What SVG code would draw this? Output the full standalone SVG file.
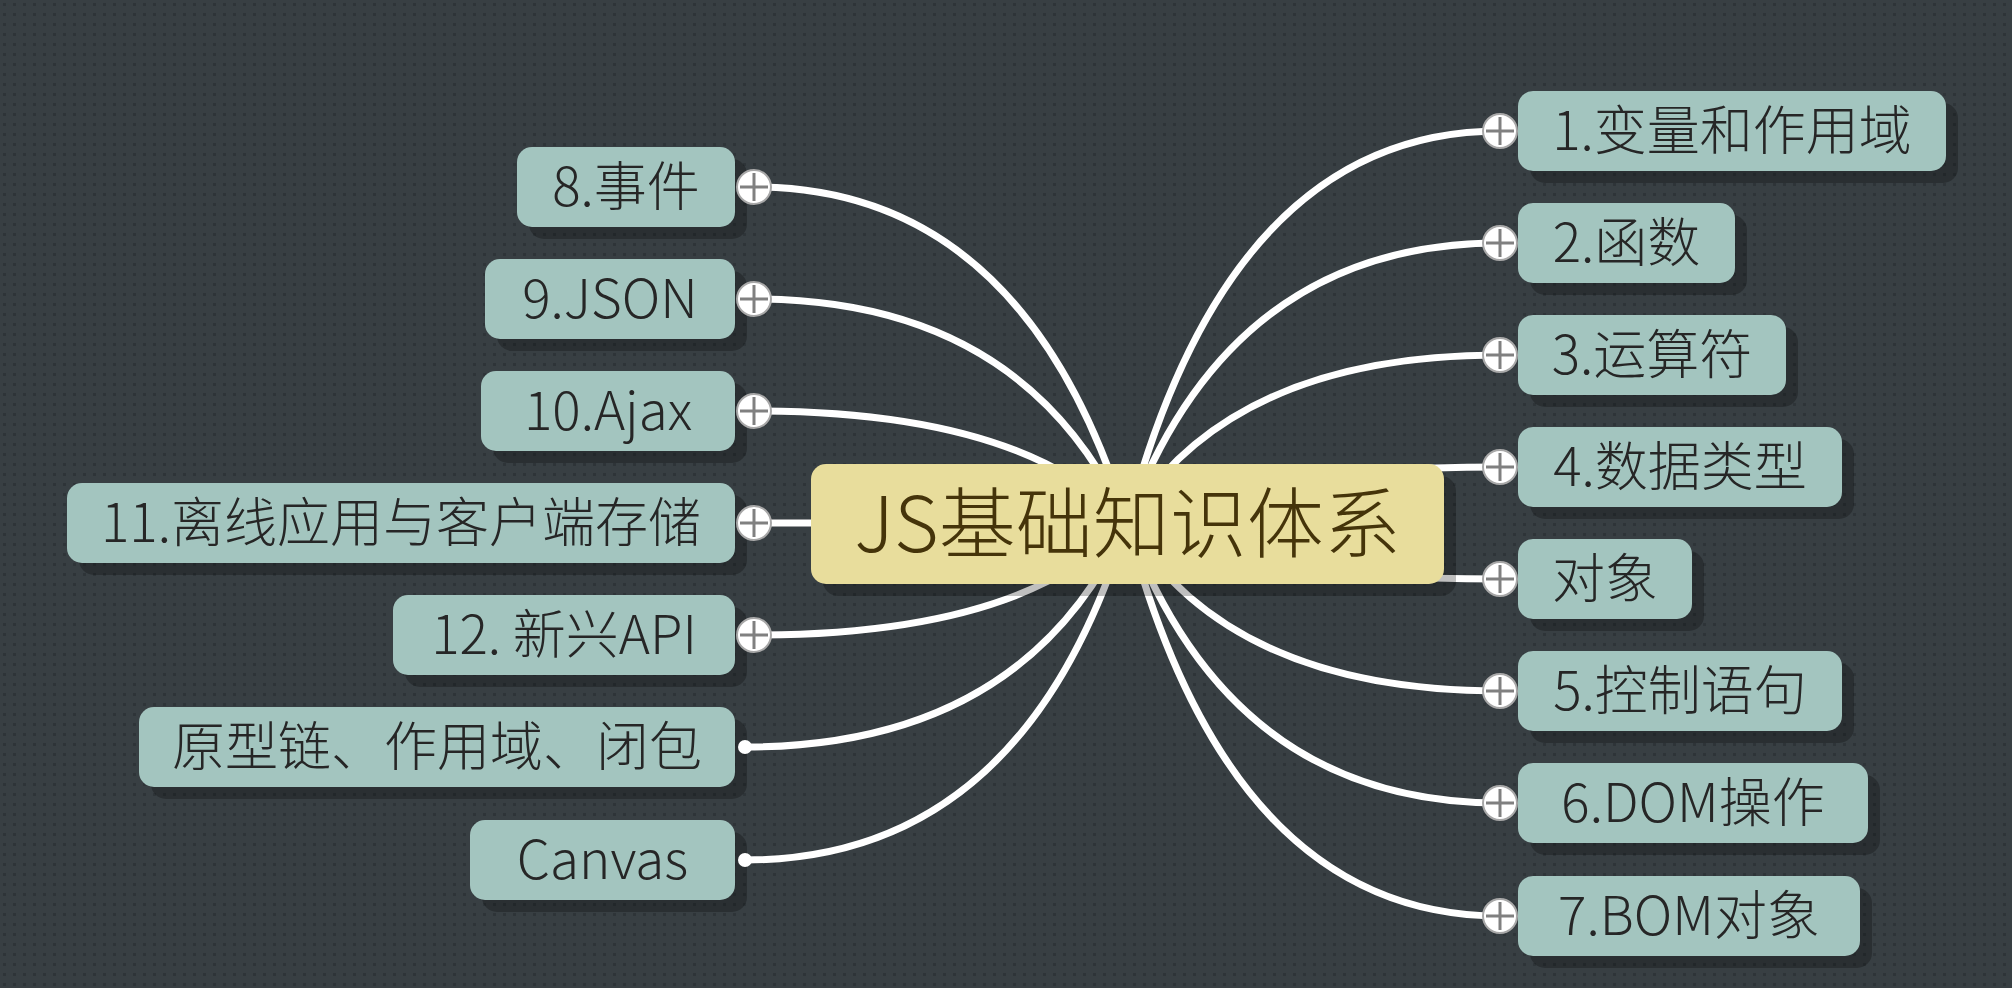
<svg xmlns="http://www.w3.org/2000/svg" width="2012" height="988" viewBox="0 0 2012 988">
<defs>
<pattern id="dots" width="10" height="10" patternUnits="userSpaceOnUse">
<rect width="10" height="10" fill="#383f43"/>
<rect x="3" y="3" width="3" height="3" fill="#2e3438"/>
</pattern>
</defs>
<style>
.conn{fill:none;stroke:#ffffff;stroke-width:7;stroke-linecap:round}
.sh{fill:#000000;fill-opacity:0.25}
.box{fill:#a3c5bf}
.cbox{fill:#e8dd9c}
.t{font-family:"Noto Sans CJK SC","Noto Sans",sans-serif;font-size:53px;font-weight:300;fill:#262626;text-anchor:middle}
.ct{font-family:"Noto Sans CJK SC","Noto Sans",sans-serif;font-size:77px;font-weight:300;fill:#45340a;text-anchor:middle}
.pc{fill:#ffffff;stroke:#a8a8a8;stroke-width:2}
.pl{stroke:#808080;stroke-width:3}
.dot{fill:#ffffff}
</style>
<rect width="2012" height="988" fill="url(#dots)"/>
<g id="connectors">
<path class="conn" d="M1127,523 Q1230,131 1500,131"/>
<path class="conn" d="M1127,523 Q1230,243 1500,243"/>
<path class="conn" d="M1127,523 Q1230,355 1500,355"/>
<path class="conn" d="M1127,523 Q1230,467 1500,467"/>
<path class="conn" d="M1127,523 Q1230,579 1500,579"/>
<path class="conn" d="M1127,523 Q1230,691 1500,691"/>
<path class="conn" d="M1127,523 Q1230,803 1500,803"/>
<path class="conn" d="M1127,523 Q1230,916 1500,916"/>
<path class="conn" d="M1127,523 Q1024,187 754,187"/>
<path class="conn" d="M1127,523 Q1024,299 754,299"/>
<path class="conn" d="M1127,523 Q1024,411 754,411"/>
<path class="conn" d="M1127,523 L754,523"/>
<path class="conn" d="M1127,523 Q1024,635 754,635"/>
<path class="conn" d="M1127,523 Q1024,747 745,747"/>
<path class="conn" d="M1127,523 Q1024,860 745,860"/>
</g>
<g id="node-center">
<rect class="sh" x="823" y="476" width="633" height="120" rx="15"/>
<rect class="cbox" x="811" y="464" width="633" height="120" rx="15"/>
<text class="ct" x="1127.5" y="552">JS基础知识体系</text>
</g>
<g id="node-1">
<rect class="sh" x="1530" y="103" width="428" height="80" rx="15"/>
<rect class="box" x="1518" y="91" width="428" height="80" rx="15"/>
<text class="t" x="1732" y="150">1.变量和作用域</text>
<circle class="pc" cx="1500" cy="131" r="17"/><path class="pl" d="M1486,131h28M1500,117v28"/>
</g>
<g id="node-2">
<rect class="sh" x="1530" y="215" width="217" height="80" rx="15"/>
<rect class="box" x="1518" y="203" width="217" height="80" rx="15"/>
<text class="t" x="1626.5" y="262">2.函数</text>
<circle class="pc" cx="1500" cy="243" r="17"/><path class="pl" d="M1486,243h28M1500,229v28"/>
</g>
<g id="node-3">
<rect class="sh" x="1530" y="327" width="268" height="80" rx="15"/>
<rect class="box" x="1518" y="315" width="268" height="80" rx="15"/>
<text class="t" x="1652" y="374">3.运算符</text>
<circle class="pc" cx="1500" cy="355" r="17"/><path class="pl" d="M1486,355h28M1500,341v28"/>
</g>
<g id="node-4">
<rect class="sh" x="1530" y="439" width="324" height="80" rx="15"/>
<rect class="box" x="1518" y="427" width="324" height="80" rx="15"/>
<text class="t" x="1680" y="486">4.数据类型</text>
<circle class="pc" cx="1500" cy="467" r="17"/><path class="pl" d="M1486,467h28M1500,453v28"/>
</g>
<g id="node-object">
<rect class="sh" x="1530" y="551" width="174" height="80" rx="15"/>
<rect class="box" x="1518" y="539" width="174" height="80" rx="15"/>
<text class="t" x="1605" y="598">对象</text>
<circle class="pc" cx="1500" cy="579" r="17"/><path class="pl" d="M1486,579h28M1500,565v28"/>
</g>
<g id="node-5">
<rect class="sh" x="1530" y="663" width="324" height="80" rx="15"/>
<rect class="box" x="1518" y="651" width="324" height="80" rx="15"/>
<text class="t" x="1680" y="710">5.控制语句</text>
<circle class="pc" cx="1500" cy="691" r="17"/><path class="pl" d="M1486,691h28M1500,677v28"/>
</g>
<g id="node-6">
<rect class="sh" x="1530" y="775" width="350" height="80" rx="15"/>
<rect class="box" x="1518" y="763" width="350" height="80" rx="15"/>
<text class="t" x="1693" y="822">6.DOM操作</text>
<circle class="pc" cx="1500" cy="803" r="17"/><path class="pl" d="M1486,803h28M1500,789v28"/>
</g>
<g id="node-7">
<rect class="sh" x="1530" y="888" width="342" height="80" rx="15"/>
<rect class="box" x="1518" y="876" width="342" height="80" rx="15"/>
<text class="t" x="1689" y="935">7.BOM对象</text>
<circle class="pc" cx="1500" cy="916" r="17"/><path class="pl" d="M1486,916h28M1500,902v28"/>
</g>
<g id="node-8">
<rect class="sh" x="529" y="159" width="218" height="80" rx="15"/>
<rect class="box" x="517" y="147" width="218" height="80" rx="15"/>
<text class="t" x="626" y="206">8.事件</text>
<circle class="pc" cx="754" cy="187" r="17"/><path class="pl" d="M740,187h28M754,173v28"/>
</g>
<g id="node-9">
<rect class="sh" x="497" y="271" width="250" height="80" rx="15"/>
<rect class="box" x="485" y="259" width="250" height="80" rx="15"/>
<text class="t" x="610" y="318">9.JSON</text>
<circle class="pc" cx="754" cy="299" r="17"/><path class="pl" d="M740,299h28M754,285v28"/>
</g>
<g id="node-10">
<rect class="sh" x="493" y="383" width="254" height="80" rx="15"/>
<rect class="box" x="481" y="371" width="254" height="80" rx="15"/>
<text class="t" x="608" y="430">10.Ajax</text>
<circle class="pc" cx="754" cy="411" r="17"/><path class="pl" d="M740,411h28M754,397v28"/>
</g>
<g id="node-11">
<rect class="sh" x="79" y="495" width="668" height="80" rx="15"/>
<rect class="box" x="67" y="483" width="668" height="80" rx="15"/>
<text class="t" x="401" y="542">11.离线应用与客户端存储</text>
<circle class="pc" cx="754" cy="523" r="17"/><path class="pl" d="M740,523h28M754,509v28"/>
</g>
<g id="node-12">
<rect class="sh" x="405" y="607" width="342" height="80" rx="15"/>
<rect class="box" x="393" y="595" width="342" height="80" rx="15"/>
<text class="t" x="564" y="654">12. 新兴API</text>
<circle class="pc" cx="754" cy="635" r="17"/><path class="pl" d="M740,635h28M754,621v28"/>
</g>
<g id="node-prototype">
<rect class="sh" x="151" y="719" width="596" height="80" rx="15"/>
<rect class="box" x="139" y="707" width="596" height="80" rx="15"/>
<text class="t" x="437" y="766">原型链、作用域、闭包</text>
<circle class="dot" cx="745" cy="747" r="7"/>
</g>
<g id="node-canvas">
<rect class="sh" x="482" y="832" width="265" height="80" rx="15"/>
<rect class="box" x="470" y="820" width="265" height="80" rx="15"/>
<text class="t" x="602.5" y="879">Canvas</text>
<circle class="dot" cx="745" cy="860" r="7"/>
</g>
</svg>
